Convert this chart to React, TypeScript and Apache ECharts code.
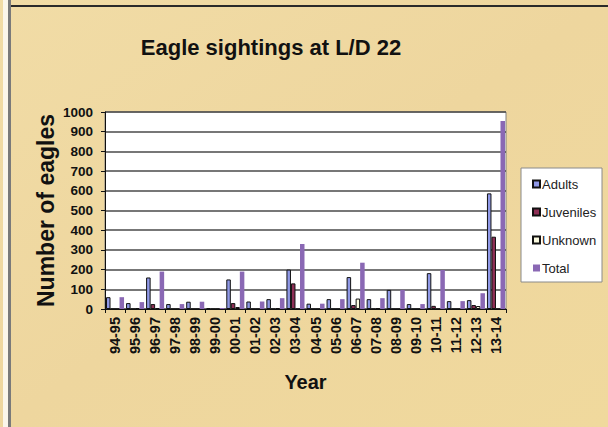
import React, { useEffect, useRef } from "react";
import * as echarts from "echarts";

const years = ["94-95","95-96","96-97","97-98","98-99","99-00","00-01","01-02","02-03","03-04","04-05","05-06","06-07","07-08","08-09","09-10","10-11","11-12","12-13","13-14"];
const adults =    [60, 30, 160, 25, 37, 5, 150, 38, 50, 200, 27, 50, 162, 50, 97, 25, 182, 40, 45, 587];
const juveniles = [0, 0, 25, 0, 0, 0, 30, 0, 0, 130, 0, 0, 20, 0, 0, 0, 16, 0, 20, 367];
const unknown =   [0, 5, 5, 0, 0, 0, 10, 0, 5, 0, 0, 0, 53, 5, 0, 0, 0, 0, 15, 0];
const total =     [60, 35, 190, 25, 37, 5, 190, 38, 55, 330, 27, 50, 235, 55, 97, 25, 198, 40, 80, 954];
const yTicks = { min: 0, max: 1000, interval: 100 };

export default function App() {
  const ref = useRef<HTMLDivElement>(null);
  useEffect(() => {
    if (!ref.current) return;
    const chart = echarts.init(ref.current, undefined, { renderer: "svg" });
    const font = "'Liberation Sans', Arial, sans-serif";
    const bar = (name: string, data: number[], color: string, border: boolean) => ({
      name,
      type: "bar",
      data,
      barGap: "0%",
      barCategoryGap: "10%",
      itemStyle: {
        color,
        borderColor: border ? "#111" : color,
        borderWidth: border ? 1 : 0,
      },
    });
    chart.setOption({
      animation: false,
      backgroundColor: {
        type: "linear", x: 0, y: 0, x2: 1, y2: 1,
        colorStops: [
          { offset: 0, color: "#f1dca6" },
          { offset: 0.5, color: "#eed69e" },
          { offset: 1, color: "#f0d99d" },
        ],
      },
      graphic: [
        { type: "rect", shape: { x: 3, y: 0, width: 5, height: 427 }, style: { fill: "#fbf6ea" }, silent: true },
        { type: "rect", shape: { x: 8, y: 0, width: 3, height: 427 }, style: { fill: "#7a7a7a" }, silent: true },
        { type: "rect", shape: { x: 11, y: 5, width: 597, height: 2 }, style: { fill: "#2a2a2a" }, silent: true },
        { type: "rect", shape: { x: 521, y: 168, width: 81, height: 114 }, style: { fill: "#ffffff", stroke: "#8a8a8a", lineWidth: 1 }, silent: true, z: -1 },
      ],
      title: {
        text: "Eagle sightings at L/D 22",
        left: 266,
        textAlign: "center",
        top: 31,
        textStyle: { fontFamily: font, fontWeight: "bold", fontSize: 22, color: "#111" },
      },
      legend: {
        orient: "vertical",
        left: 527,
        top: 172,
        itemWidth: 7,
        itemHeight: 7,
        itemGap: 14,
        icon: "rect",
        textStyle: { fontFamily: font, fontSize: 13, color: "#222", lineHeight: 14, padding: [0, 0, 0, -3] },
        data: ["Adults", "Juveniles", "Unknown", "Total"],
      },
      grid: {
        left: 105, top: 112, width: 401, height: 197,
        show: true, backgroundColor: "#ffffff", borderColor: "#808080", borderWidth: 1,
      },
      xAxis: {
        type: "category",
        data: years,
        name: "Year",
        nameLocation: "middle",
        nameGap: 63,
        nameTextStyle: { fontFamily: font, fontWeight: "bold", fontSize: 20, color: "#111" },
        axisLine: { lineStyle: { color: "#111", width: 1 } },
        axisTick: { show: true, alignWithLabel: false, length: 4, lineStyle: { color: "#111" } },
        axisLabel: { rotate: 90, fontFamily: font, fontWeight: "bold", fontSize: 14.5, color: "#111", margin: 8, interval: 0 },
      },
      yAxis: {
        type: "value",
        min: yTicks.min,
        max: yTicks.max,
        interval: yTicks.interval,
        name: "Number of eagles",
        nameLocation: "middle",
        nameGap: 48,
        nameMoveOverlap: false,
        nameTextStyle: { fontFamily: font, fontWeight: "bold", fontSize: 23, color: "#111" },
        axisLine: { show: true, lineStyle: { color: "#111", width: 1 } },
        axisTick: { show: true, length: 4, lineStyle: { color: "#111" } },
        axisLabel: { fontFamily: font, fontWeight: "bold", fontSize: 13.5, color: "#111", margin: 12, formatter: (v: number) => String(v) },
        splitLine: { lineStyle: { color: "#4a4a4a", width: 1.5 } },
      },
      series: [
        bar("Adults", adults, "#8f98e6", true),
        bar("Juveniles", juveniles, "#8e2f55", true),
        bar("Unknown", unknown, "#fbfbe0", true),
        bar("Total", total, "#8a68b4", false),
      ],
    });
    return () => chart.dispose();
  }, []);
  return <div ref={ref} style={{ position: "fixed", left: 0, top: 0, width: 608, height: 427 }} />;
}
